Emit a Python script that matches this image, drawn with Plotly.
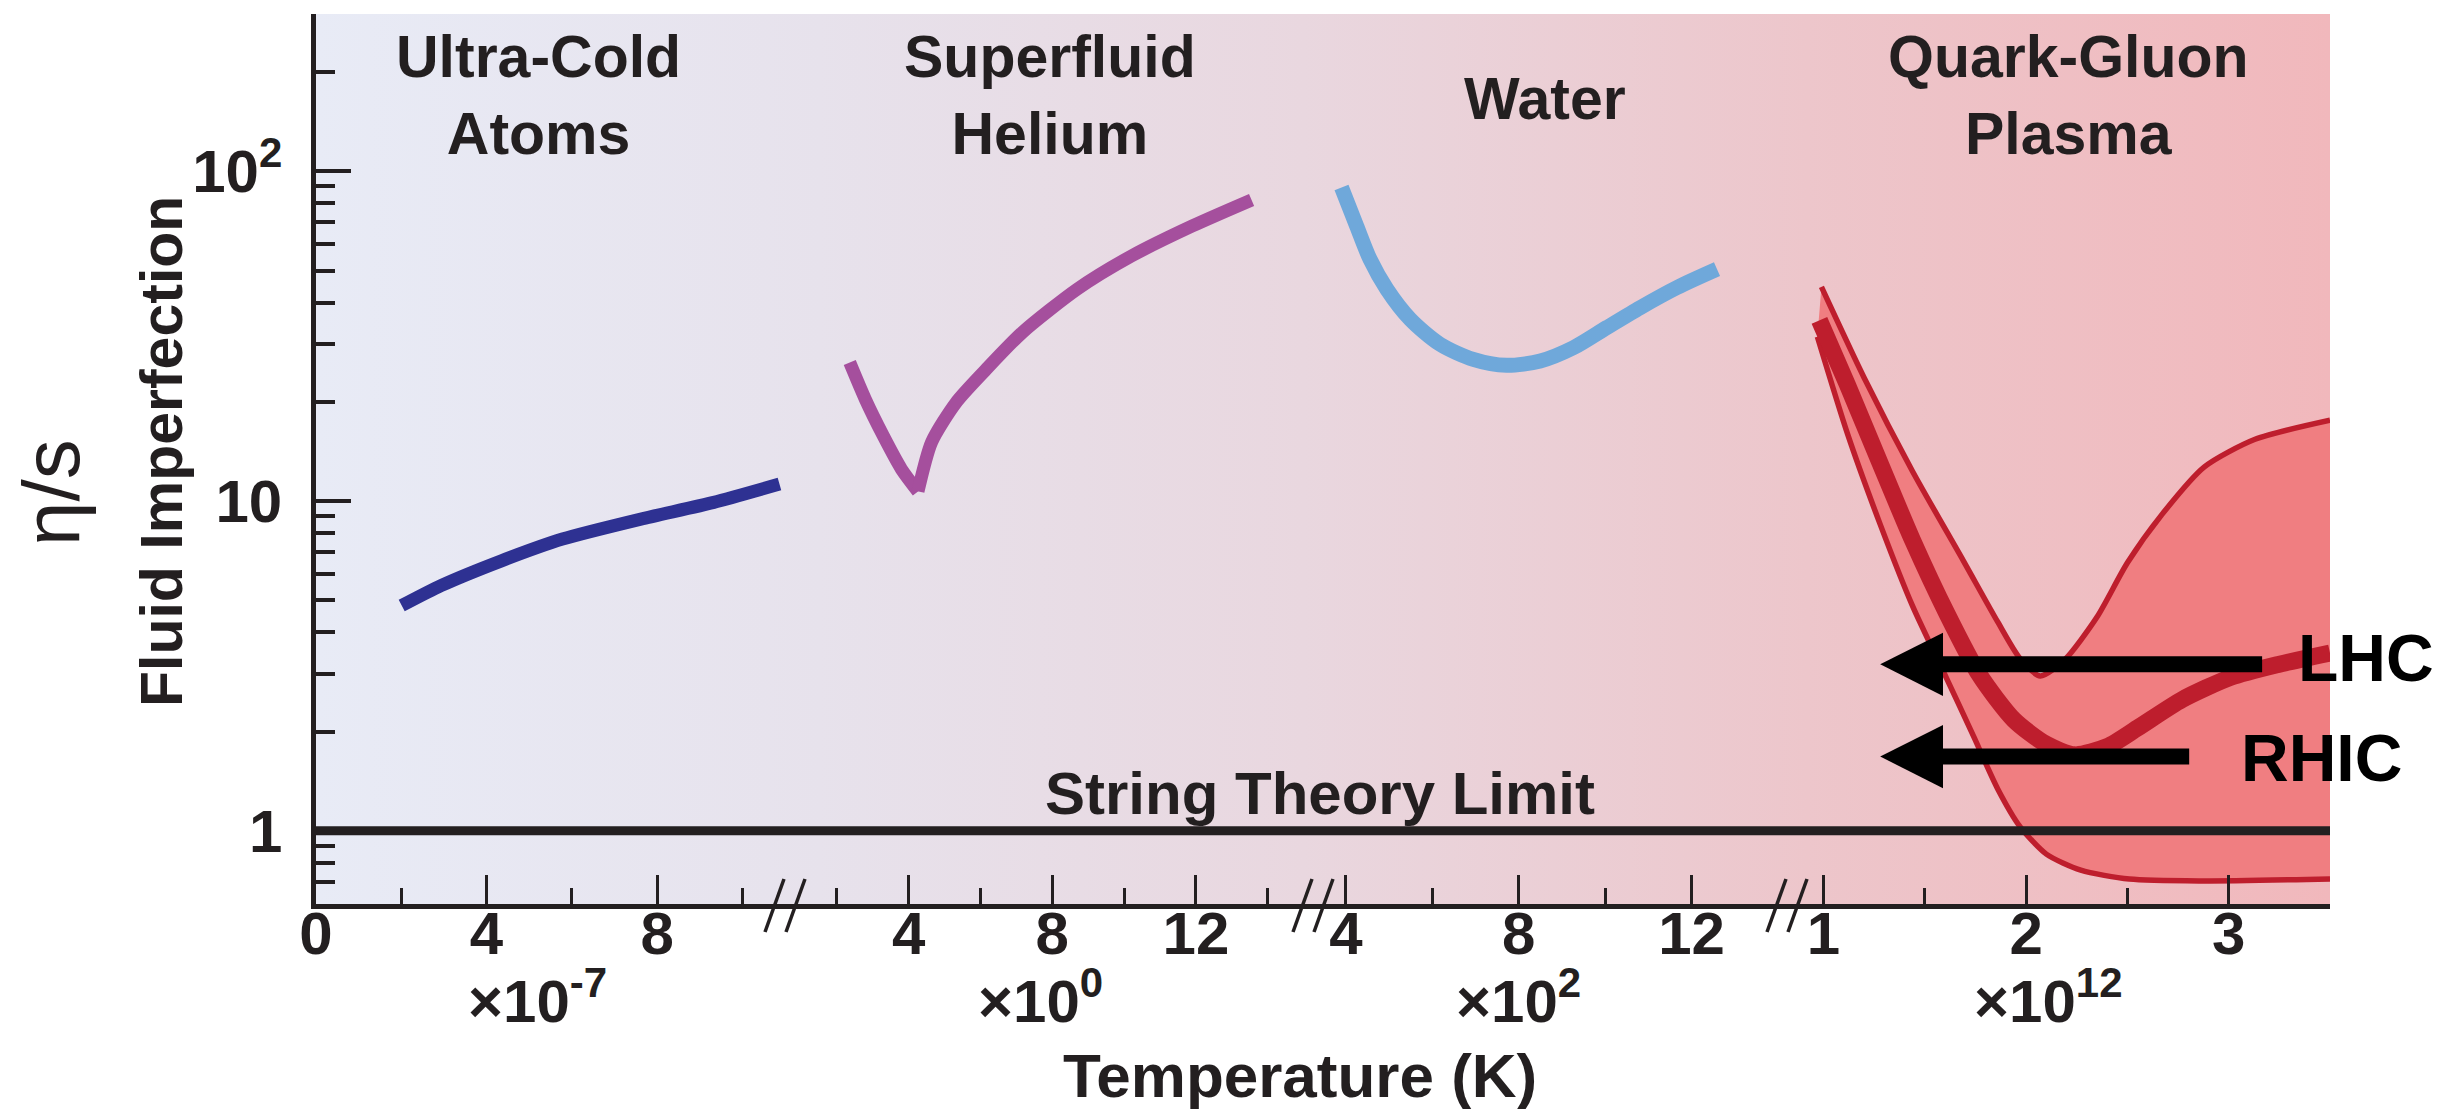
import math
import plotly.graph_objects as go

# ---------------------------------------------------------------------------
# Data: eta/s versus temperature for four fluids (piecewise temperature scale)
# ---------------------------------------------------------------------------
# Ultra-cold atoms, T in units of 1e-7 K
cold_T = [2.01, 2.93, 4.35, 5.78, 7.62, 9.33, 10.87]
cold_eta = [4.82, 5.54, 6.59, 7.67, 8.82, 9.91, 11.26]

# Superfluid helium, T in K (index 4 is the lambda-point dip)
helium_T = [2.36, 2.79, 3.29, 3.80, 4.26, 4.64, 5.32, 6.16, 7.17, 8.69, 10.21, 11.90, 13.55]
helium_eta = [26.3, 20.4, 15.8, 12.5, 10.7, 15.1, 19.9, 25.1, 32.5, 43.9, 55.4, 68.3, 81.9]
helium_dip = 4

# Water, T in units of 1e2 K
water_T = [3.90, 4.25, 4.56, 4.95, 5.49, 6.18, 6.95, 7.72, 8.50, 9.27, 10.04, 10.81, 11.66, 12.59]
water_eta = [89.3, 68.3, 54.1, 43.9, 35.6, 29.9, 26.9, 25.8, 26.6, 29.2, 33.6, 38.6, 44.4, 50.5]

# Quark-gluon plasma, T in units of 1e12 K (uncertainty band + central curve)
qgp_upper_T = [0.99, 1.20, 1.44, 1.69, 1.86, 1.97, 2.07, 2.19, 2.35, 2.50, 2.67, 2.88, 3.13, 3.50]
qgp_upper_eta = [44.6, 23.7, 12.3, 6.6, 4.3, 3.33, 2.95, 3.3, 4.45, 6.5, 9.1, 12.7, 15.4, 17.6]
qgp_lower_T = [0.97, 1.12, 1.28, 1.44, 1.61, 1.74, 1.86, 1.97, 2.10, 2.27, 2.51, 2.86, 3.50]
qgp_lower_eta = [31.5, 15.9, 8.5, 4.8, 2.88, 1.94, 1.34, 1.03, 0.85, 0.76, 0.714, 0.705, 0.715]
qgp_mid_T = [0.98, 1.12, 1.28, 1.44, 1.61, 1.77, 1.94, 2.10, 2.24, 2.40, 2.55, 2.77, 3.01, 3.25, 3.50]
qgp_mid_eta = [35.3, 22.4, 13.0, 7.6, 4.55, 2.97, 2.17, 1.83, 1.70, 1.80, 2.05, 2.5, 2.92, 3.2, 3.46]

# Collider markers (eta/s level each arrow points at)
collider_names = ["LHC", "RHIC"]
collider_eta = [3.2, 1.68]
collider_tail_T = [3.165, 2.805]

# String theory lower bound
string_limit = 1.0

# Temperature segments: tick values and scale factor labels
seg_major = [[0, 4, 8], [4, 8, 12], [4, 8, 12], [1, 2, 3]]
seg_minor = [[2, 6, 10], [2, 6, 10, 14], [6, 10], [1.5, 2.5]]
seg_range = [[0.0, 11.0], [0.557, 15.26], [3.24, 14.21], [0.82, 3.5]]
seg_scale = ["×10<sup>-7</sup>", "×10<sup>0</sup>", "×10<sup>2</sup>", "×10<sup>12</sup>"]
seg_scale_at = [5.2, 7.66, 8.0, 2.11]
region_names = ["Ultra-Cold<br>Atoms", "Superfluid<br>Helium", "Water", "Quark-Gluon<br>Plasma"]

y_major = [1, 10, 100]
y_major_text = ["1", "10", "10<sup>2</sup>"]
y_minor = [0.7, 0.8, 0.9, 2, 3, 4, 5, 6, 7, 8, 9, 20, 30, 40, 50, 60, 70, 80, 90, 200, 300]
y_limits = [0.6, 300]

# ---------------------------------------------------------------------------
# Styling
# ---------------------------------------------------------------------------
INK = "#231F20"
FONT = "Liberation Sans, Arial, Helvetica, sans-serif"
C_COLD = "#2E3192"
C_HELIUM = "#A54F9D"
C_WATER = "#6FA8DA"
C_QGP = "#BE1E2D"
C_QGP_FILL = "#F07E81"
BG_SCALE = [[0.0, "#E8EBF6"], [0.25, "#E7E2EC"], [0.49, "#E9D7DF"],
            [0.74, "#EDC6CB"], [1.0, "#F1B8BC"]]

W, H = 2457, 1109
PL, PR, PT, PB = 316, 2330, 14, 904          # plot area in pixels


def fx(px):
    return (px - PL) / (PR - PL)


def fy(py):
    return (PB - py) / (PB - PT)


# break positions between temperature segments (pixels)
breaks_px = [785, 1313, 1787]
edges = [0.0] + [fx(b) for b in breaks_px] + [1.0]
domains = [[edges[i], edges[i + 1]] for i in range(4)]
xnames = ["x2", "x3", "x4", "x5"]

fig = go.Figure()

# Horizontal colour wash behind all segments
fig.add_trace(go.Scatter(
    x=[0, 1, 1, 0, 0], y=[0, 0, 1, 1, 0], xaxis="x", yaxis="y",
    mode="none", fill="toself",
    fillgradient=dict(type="horizontal", colorscale=BG_SCALE),
    hoverinfo="skip", showlegend=False))

# Ultra-cold atoms
fig.add_trace(go.Scatter(
    x=cold_T, y=cold_eta, xaxis="x2", yaxis="y2", mode="lines",
    line=dict(color=C_COLD, width=13, shape="spline", smoothing=0.6),
    hoverinfo="skip", showlegend=False))

# Superfluid helium: two smooth branches meeting at a sharp dip
for part in (slice(0, helium_dip + 1), slice(helium_dip, None)):
    fig.add_trace(go.Scatter(
        x=helium_T[part], y=helium_eta[part], xaxis="x3", yaxis="y2", mode="lines",
        line=dict(color=C_HELIUM, width=13, shape="spline", smoothing=0.7),
        hoverinfo="skip", showlegend=False))

# Water
fig.add_trace(go.Scatter(
    x=water_T, y=water_eta, xaxis="x4", yaxis="y2", mode="lines",
    line=dict(color=C_WATER, width=15, shape="spline", smoothing=0.8),
    hoverinfo="skip", showlegend=False))

# Quark-gluon plasma band
fig.add_trace(go.Scatter(
    x=qgp_lower_T, y=qgp_lower_eta, xaxis="x5", yaxis="y2", mode="lines",
    line=dict(color=C_QGP, width=5.5, shape="spline", smoothing=0.7),
    hoverinfo="skip", showlegend=False))
fig.add_trace(go.Scatter(
    x=qgp_upper_T, y=qgp_upper_eta, xaxis="x5", yaxis="y2", mode="lines",
    fill="tonexty", fillcolor=C_QGP_FILL,
    line=dict(color=C_QGP, width=5.5, shape="spline", smoothing=0.7),
    hoverinfo="skip", showlegend=False))
fig.add_trace(go.Scatter(
    x=qgp_mid_T, y=qgp_mid_eta, xaxis="x5", yaxis="y2", mode="lines",
    line=dict(color=C_QGP, width=17, shape="spline", smoothing=0.7),
    hoverinfo="skip", showlegend=False))

# Collider arrows: shaft plus a filled triangular head
tip_T, head_base_T, head_factor = 1.28, 1.59, 1.247
for eta, tail in zip(collider_eta, collider_tail_T):
    fig.add_trace(go.Scatter(
        x=[head_base_T - 0.02, tail], y=[eta, eta], xaxis="x5", yaxis="y2",
        mode="lines", line=dict(color="black", width=16),
        hoverinfo="skip", showlegend=False))
    fig.add_trace(go.Scatter(
        x=[tip_T, head_base_T, head_base_T, tip_T],
        y=[eta, eta * head_factor, eta / head_factor, eta],
        xaxis="x5", yaxis="y2", mode="none", fill="toself", fillcolor="black",
        hoverinfo="skip", showlegend=False))

tickfont = dict(family=FONT, size=60, color=INK, weight="bold")

layout = dict(
    width=W, height=H, autosize=False,
    margin=dict(l=PL, r=W - PR, t=PT, b=H - PB, pad=0),
    paper_bgcolor="white", plot_bgcolor="rgba(0,0,0,0)",
    showlegend=False,
    xaxis=dict(domain=[0, 1], range=[0, 1], visible=False, fixedrange=True),
    yaxis=dict(domain=[0, 1], range=[0, 1], visible=False, fixedrange=True),
    yaxis2=dict(
        type="log", range=[math.log10(y_limits[0]), math.log10(y_limits[1])],
        domain=[0, 1], anchor="x2", showline=True, linewidth=4.5, linecolor=INK,
        showgrid=False, zeroline=False, fixedrange=True,
        ticks="inside", ticklen=35, tickwidth=3.5, tickcolor=INK,
        tickmode="array", tickvals=y_major, ticktext=y_major_text,
        tickfont=tickfont, ticklabelstandoff=17,
        minor=dict(ticks="inside", ticklen=19, tickwidth=3.5, tickcolor=INK,
                   tickmode="array", tickvals=y_minor, showgrid=False)),
)

for i, name in enumerate(xnames):
    key = "xaxis" + name[1:]
    layout[key] = dict(
        domain=domains[i], range=seg_range[i], anchor="y2",
        showline=True, linewidth=4.5, linecolor=INK,
        showgrid=False, zeroline=False, fixedrange=True,
        ticks="inside", ticklen=29, tickwidth=3, tickcolor=INK,
        tickmode="array", tickvals=seg_major[i],
        ticktext=[f"{v:g}" for v in seg_major[i]], tickfont=tickfont,
        ticklabelstandoff=-27,
        minor=dict(ticks="inside", ticklen=16, tickwidth=3, tickcolor=INK,
                   tickmode="array", tickvals=seg_minor[i], showgrid=False))

fig.update_layout(**layout)

# String theory limit line across the whole temperature axis
shapes = [dict(type="line", xref="paper", yref="y2", x0=0, x1=1,
               y0=string_limit, y1=string_limit, layer="above",
               line=dict(color=INK, width=9))]

# Axis-break marks
for b in breaks_px:
    for off in (-10.5, 10.5):
        c = b + off
        shapes.append(dict(type="line", xref="paper", yref="paper",
                           x0=fx(c - 9.5), y0=fy(932), x1=fx(c + 9.5), y1=fy(879),
                           line=dict(color=INK, width=3.5)))
fig.update_layout(shapes=shapes)

ann = []
bold = dict(family=FONT, color=INK, weight="bold")

# Region titles
region_px = [(538, 95.5), (1050, 95.5), (1545, 99), (2068, 95.5)]
for name, (px, py) in zip(region_names, region_px):
    ann.append(dict(text=name, x=fx(px), y=fy(py), xref="paper", yref="paper",
                    showarrow=False, xanchor="center", yanchor="middle",
                    font=dict(size=59, **bold)))

# Scale factor under each temperature segment
for name, lab, at in zip(xnames, seg_scale, seg_scale_at):
    ann.append(dict(text=lab, x=at, y=fy(997), xref=name, yref="paper",
                    showarrow=False, xanchor="center", yanchor="middle",
                    font=dict(size=60, **bold)))

ann.append(dict(text="Temperature (K)", x=fx(1300), y=fy(1075), xref="paper",
                yref="paper", showarrow=False, xanchor="center", yanchor="middle",
                font=dict(size=62, **bold)))
ann.append(dict(text="String Theory Limit", x=fx(1320), y=fy(793), xref="paper",
                yref="paper", showarrow=False, xanchor="center", yanchor="middle",
                font=dict(size=60, **bold)))
ann.append(dict(text="Fluid Imperfection", x=fx(162), y=fy(452), xref="paper",
                yref="paper", showarrow=False, xanchor="center", yanchor="middle",
                textangle=-90, font=dict(size=59, **bold)))
ann.append(dict(text="η/s", x=fx(51), y=fy(493), xref="paper", yref="paper",
                showarrow=False, xanchor="center", yanchor="middle", textangle=-90,
                font=dict(family=FONT, size=80, color=INK)))

# Collider names
collider_px = [(2366, 658), (2321, 758)]
for name, (px, py) in zip(collider_names, collider_px):
    ann.append(dict(text=name, x=fx(px), y=fy(py), xref="paper", yref="paper",
                    showarrow=False, xanchor="center", yanchor="middle",
                    font=dict(family=FONT, size=66, color="black", weight="bold")))

fig.update_layout(annotations=ann)

fig.write_html("out.html", config=dict(displayModeBar=False))
